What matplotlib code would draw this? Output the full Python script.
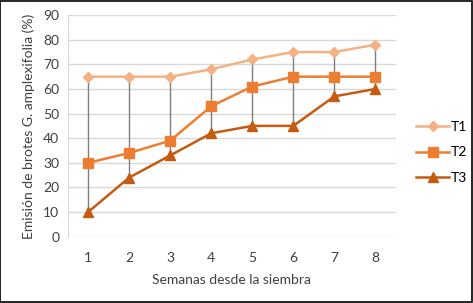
import numpy as np
import matplotlib.pyplot as plt
from matplotlib.patches import Rectangle

# Data
weeks = [1, 2, 3, 4, 5, 6, 7, 8]
t1 = [65, 65, 65, 68, 72, 75, 75, 78]
t2 = [30, 34, 39, 53, 61, 65, 65, 65]
t3 = [10, 24, 33, 42, 45, 45, 57, 60]
series_names = ['T1', 'T2', 'T3']
y_ticks = [0, 10, 20, 30, 40, 50, 60, 70, 80, 90]

plt.rcParams['font.family'] = ['Lato', 'DejaVu Sans']

fig = plt.figure(figsize=(4.73, 3.03), dpi=100)
ax = fig.add_axes([0.143, 0.219, 0.694, 0.731])

# High-low lines (Excel style)
all_vals = np.array([t1, t2, t3])
ax.vlines(weeks, all_vals.min(axis=0), all_vals.max(axis=0),
          color='#7f7f7f', linewidth=1.0, zorder=2)

ax.plot(weeks, t1, color='#F4B183', marker='D', markersize=5.5,
        linewidth=1.8, label=series_names[0], zorder=3)
ax.plot(weeks, t2, color='#ED7D31', marker='s', markersize=6.5,
        linewidth=1.8, label=series_names[1], zorder=3)
ax.plot(weeks, t3, color='#C55A11', marker='^', markersize=7,
        linewidth=1.8, label=series_names[2], zorder=3)

ax.set_xlim(0.5, 8.5)
ax.set_ylim(0, 90)
ax.set_yticks(y_ticks)
ax.set_xticks(weeks)
ax.yaxis.grid(True, color='#D9D9D9', linewidth=1.0)
ax.set_axisbelow(True)
for side in ['top', 'right', 'bottom']:
    ax.spines[side].set_visible(False)
ax.spines['left'].set_color('#D9D9D9')
ax.tick_params(length=0, labelsize=10, colors='#404040', pad=6)
ax.tick_params(axis='x', pad=11)

ax.set_xlabel('Semanas desde la siembra', fontsize=10, color='#404040',
              labelpad=7)
ax.set_ylabel('Emisión de brotes G. amplexifolia (%)', fontsize=10,
              color='#404040', labelpad=6)

ax.legend(loc='center left', bbox_to_anchor=(1.04, 0.38), frameon=False,
          fontsize=10, handlelength=2.4, labelspacing=0.95,
          handletextpad=0.1, borderpad=0)

fig.patches.append(Rectangle((0.001, 0.002), 0.997, 0.995, fill=False,
                             edgecolor='black', linewidth=1.2,
                             transform=fig.transFigure))

fig.savefig('out.png', dpi=100)
